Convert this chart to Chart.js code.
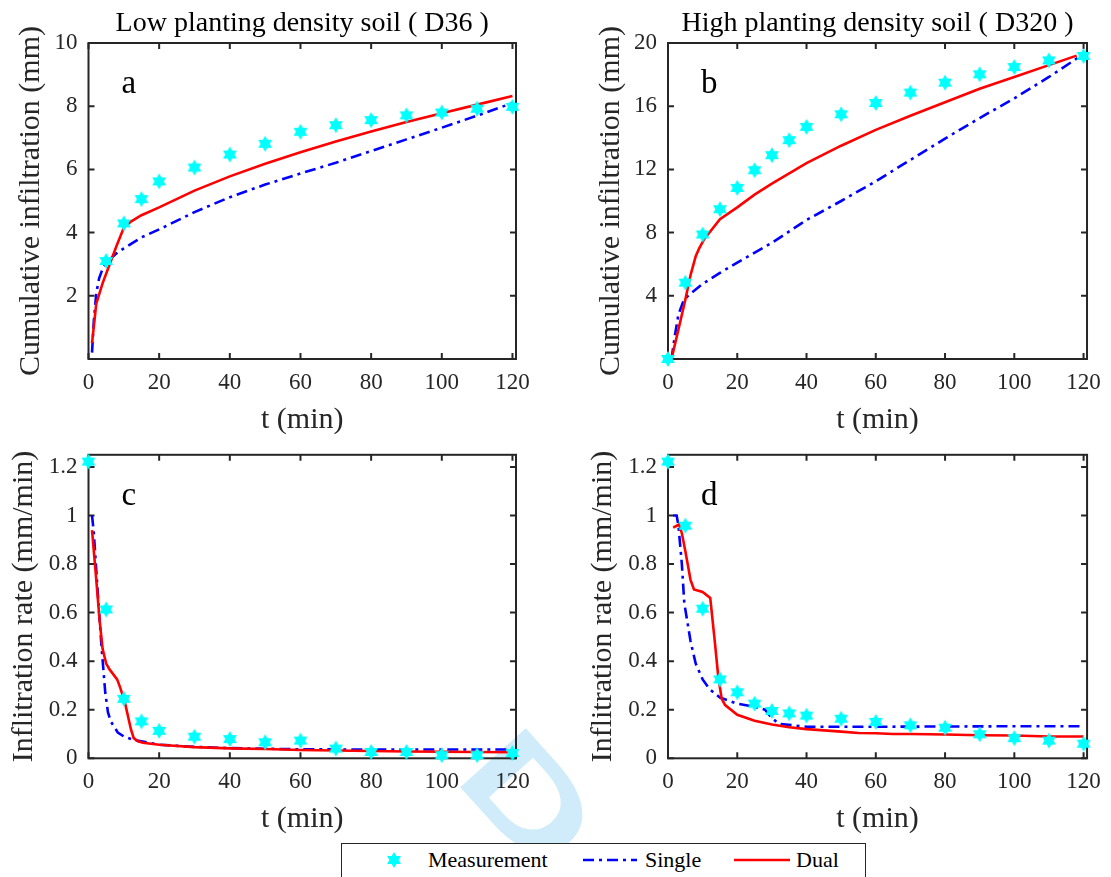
<!DOCTYPE html>
<html><head><meta charset="utf-8">
<script src="https://cdn.jsdelivr.net/npm/chart.js@4.4.1/dist/chart.umd.min.js"></script>
<style>
html,body{margin:0;padding:0;background:#fff;}
body{width:1111px;height:877px;position:relative;overflow:hidden;font-family:'Liberation Serif','Times New Roman',serif;}
#wm{position:absolute;left:0;top:0;z-index:0;}
#legend{position:absolute;left:341px;top:843px;width:525px;height:46px;border:1px solid #262626;background:#fff;z-index:3;box-sizing:border-box;}
#legend span{position:absolute;top:4.6px;font-size:22px;line-height:22px;color:#000;white-space:nowrap;font-family:'Liberation Serif','Times New Roman',serif;}
#legend canvas{position:absolute;}
</style>
</head><body>
<canvas id="wm" width="1111" height="877"></canvas>
<div id="legend">
  <canvas id="lgStar" width="18" height="18" style="left:42.5px;top:7px"></canvas>
  <span style="left:86px">Measurement</span>
  <canvas id="lgSingle" width="54" height="6" style="left:241px;top:13px"></canvas>
  <span style="left:303px">Single</span>
  <canvas id="lgDual" width="56" height="6" style="left:392px;top:13px"></canvas>
  <span style="left:454px">Dual</span>
</div>
<script>
// ---------------- data ----------------
const xTickVals = [0, 20, 40, 60, 80, 100, 120];
const cumTicksA = [2, 4, 6, 8, 10];
const cumTicksB = [4, 8, 12, 16, 20];
const rateTicks = [0, 0.2, 0.4, 0.6, 0.8, 1, 1.2];
const rateTickLabels = ['0', '0.2', '0.4', '0.6', '0.8', '1', '1.2'];

// panel a: cumulative infiltration, low density (D36)
const tMeasA   = [5, 10, 15, 20, 30, 40, 50, 60, 70, 80, 90, 100, 110, 120];
const cumMeasA = [3.10, 4.29, 5.06, 5.62, 6.06, 6.47, 6.81, 7.19, 7.40, 7.56, 7.71, 7.80, 7.92, 7.98];
const tSingleA   = [1, 1.5, 2.2, 3, 4.2, 6, 8, 10, 15, 20, 30, 40, 50, 60, 70, 80, 90, 100, 110, 120];
const cumSingleA = [0.2, 1.2, 2.08, 2.55, 2.92, 3.15, 3.35, 3.5, 3.85, 4.1, 4.65, 5.12, 5.52, 5.87, 6.21, 6.58, 6.95, 7.32, 7.7, 8.1];
const tDualA   = [1, 2.2, 4, 6, 8, 10, 12, 15, 20, 30, 40, 50, 60, 70, 80, 90, 100, 110, 120];
const cumDualA = [0.5, 1.75, 2.4, 3.0, 3.6, 4.15, 4.35, 4.55, 4.8, 5.33, 5.78, 6.18, 6.54, 6.88, 7.2, 7.5, 7.78, 8.05, 8.32];

// panel b: cumulative infiltration, high density (D320)
const tMeasB   = [0, 5, 10, 15, 20, 25, 30, 35, 40, 50, 60, 70, 80, 90, 100, 110, 120];
const cumMeasB = [0, 4.83, 7.88, 9.48, 10.83, 11.95, 12.9, 13.85, 14.69, 15.49, 16.2, 16.86, 17.49, 18.02, 18.48, 18.9, 19.18];
const tSingleB   = [1, 2, 3, 4.5, 6, 8, 10, 15, 20, 30, 40, 50, 60, 70, 80, 90, 100, 110, 120];
const cumSingleB = [0, 1.5, 2.8, 3.7, 4.05, 4.4, 4.75, 5.45, 6.1, 7.35, 8.8, 10.0, 11.25, 12.6, 13.95, 15.25, 16.5, 17.85, 19.3];
const tDualB   = [1, 3, 5, 6.5, 8, 9, 10.5, 15, 20, 25, 30, 40, 50, 60, 70, 80, 90, 100, 110, 118];
const cumDualB = [0, 1.85, 3.75, 5.3, 6.5, 7.0, 7.6, 8.85, 9.6, 10.4, 11.1, 12.4, 13.5, 14.5, 15.4, 16.25, 17.1, 17.85, 18.6, 19.2];

// panel c: infiltration rate, low density
const tMeasC    = [0, 5, 10, 15, 20, 30, 40, 50, 60, 70, 80, 90, 100, 110, 120];
const rateMeasC = [1.222, 0.613, 0.245, 0.152, 0.113, 0.089, 0.079, 0.066, 0.073, 0.04, 0.026, 0.026, 0.013, 0.013, 0.022];
const tSingleC    = [1, 1.5, 2.2, 3, 3.7, 4.75, 5.5, 6.3, 8.3, 10, 13, 20, 30, 40, 60, 80, 100, 120];
const rateSingleC = [1.0, 0.93, 0.775, 0.6, 0.457, 0.27, 0.19, 0.152, 0.106, 0.09, 0.075, 0.056, 0.047, 0.042, 0.037, 0.036, 0.036, 0.036];
const tDualC    = [1, 2, 3.2, 4, 5, 6, 6.6, 8.1, 9, 10.3, 12, 12.8, 14, 15.4, 20, 30, 40, 50, 60, 70, 80, 90, 100, 110, 120];
const rateDualC = [0.94, 0.77, 0.56, 0.45, 0.39, 0.365, 0.354, 0.325, 0.29, 0.23, 0.12, 0.083, 0.07, 0.064, 0.056, 0.046, 0.041, 0.038, 0.034, 0.032, 0.03, 0.028, 0.027, 0.026, 0.025];

// panel d: infiltration rate, high density
const tMeasD    = [0, 5, 10, 15, 20, 25, 30, 35, 40, 50, 60, 70, 80, 90, 100, 110, 120];
const rateMeasD = [1.222, 0.958, 0.616, 0.325, 0.272, 0.225, 0.195, 0.185, 0.176, 0.163, 0.15, 0.136, 0.126, 0.099, 0.083, 0.073, 0.06];
const tSingleD    = [1.5, 2.5, 3, 4, 4.7, 6.5, 8, 10, 12, 15, 20, 25, 28, 30, 32, 40, 60, 80, 100, 120];
const rateSingleD = [1.0, 1.0, 0.96, 0.8, 0.64, 0.483, 0.39, 0.325, 0.285, 0.25, 0.225, 0.212, 0.2, 0.166, 0.142, 0.13, 0.13, 0.131, 0.132, 0.132];
const tDualD    = [1.5, 3.2, 4, 5, 6.5, 7.5, 10, 12.2, 13.5, 14.5, 15.5, 16.5, 20, 25, 30, 35, 40, 45, 50, 55, 60, 65, 70, 80, 90, 100, 110, 120];
const rateDualD = [0.95, 0.963, 0.927, 0.854, 0.735, 0.695, 0.685, 0.66, 0.483, 0.338, 0.245, 0.219, 0.179, 0.155, 0.139, 0.128, 0.12, 0.115, 0.11, 0.104, 0.103, 0.1, 0.1, 0.098, 0.095, 0.094, 0.09, 0.09];

// ---------------- drawing ----------------
const SERIF = "'Liberation Serif','Times New Roman',serif";
const INK = '#262626';
const DASHDOT = [11, 5, 3, 5];

function makeStar() {
  const c = document.createElement('canvas');
  c.width = 18; c.height = 18;
  drawStar(c.getContext('2d'), 9, 9, 8);
  return c;
}
function drawStar(ctx, cx, cy, R) {
  const r = R / Math.sqrt(3);
  ctx.beginPath();
  for (let i = 0; i < 12; i++) {
    const a = -Math.PI / 2 + i * Math.PI / 6;
    const rr = i % 2 === 0 ? R : r;
    const px = cx + rr * Math.cos(a), py = cy + rr * Math.sin(a);
    if (i === 0) ctx.moveTo(px, py); else ctx.lineTo(px, py);
  }
  ctx.closePath();
  ctx.fillStyle = '#00ffff';
  ctx.fill();
}
const STAR = makeStar();

const framePlugin = {
  id: 'frame',
  beforeDatasetsDraw(chart, args, opts) {
    const {ctx, chartArea: a, scales: {x, y}} = chart;
    ctx.save();
    ctx.strokeStyle = INK;
    ctx.lineWidth = 2;
    ctx.strokeRect(a.left, a.top, a.right - a.left, a.bottom - a.top);
    const tl = 6;
    ctx.beginPath();
    x.ticks.forEach(t => {
      const px = x.getPixelForValue(t.value);
      ctx.moveTo(px, a.bottom); ctx.lineTo(px, a.bottom - tl);
      ctx.moveTo(px, a.top); ctx.lineTo(px, a.top + tl);
    });
    y.ticks.forEach(t => {
      const py = y.getPixelForValue(t.value);
      ctx.moveTo(a.left, py); ctx.lineTo(a.left + tl, py);
      ctx.moveTo(a.right, py); ctx.lineTo(a.right - tl, py);
    });
    ctx.stroke();
    if (opts.letter) {
      ctx.fillStyle = '#000';
      ctx.font = '33px ' + SERIF;
      ctx.textBaseline = 'alphabetic';
      ctx.textAlign = 'left';
      ctx.fillText(opts.letter, a.left + 33, a.top + 50);
    }
    ctx.restore();
  }
};

function pts(xs, ys) { return xs.map((x, i) => ({x: x, y: ys[i]})); }

function makePanel(p) {
  const cv = document.createElement('canvas');
  cv.width = p.W; cv.height = p.H;
  cv.style.cssText = `position:absolute;left:${p.L}px;top:${p.T}px;width:${p.W}px;height:${p.H}px;z-index:1;`;
  document.body.appendChild(cv);
  const yAxisW = p.left - p.L;
  const padRight = p.L + p.W - p.right;
  const xAxisH = p.T + p.H - p.bottom;
  const xTitlePad = (p.T + p.H) - (p.bottom + 61) - 18;
  const yTitlePad = p.yTitleX - p.L - 18;
  const titleLH = 28 * 1.2;
  const titleOpts = p.title ? {
    display: true, text: p.title, fullSize: false, color: '#000',
    font: {family: SERIF, size: 28, weight: 'normal', lineHeight: 1.2},
    padding: {top: 7, bottom: (p.top - p.T) - titleLH - 7}
  } : {display: false};

  new Chart(cv, {
    type: 'scatter',
    data: {datasets: [
      {label: 'Measurement', data: pts(p.tm, p.ym), pointStyle: STAR, pointRadius: 6, pointHoverRadius: 6,
       showLine: false, clip: false, backgroundColor: '#00ffff', borderColor: '#00ffff'},
      {label: 'Dual', data: pts(p.td, p.yd), showLine: true, borderColor: '#ff0000', borderWidth: 2.6,
       pointRadius: 0, pointHoverRadius: 0, fill: false, tension: 0},
      {label: 'Single', data: pts(p.ts, p.ys), showLine: true, borderColor: '#0000ff', borderWidth: 2.6,
       borderDash: DASHDOT, pointRadius: 0, pointHoverRadius: 0, fill: false, tension: 0}
    ]},
    options: {
      responsive: false, animation: false, devicePixelRatio: 1,
      layout: {padding: {left: 0, right: padRight, top: p.title ? 0 : (p.top - p.T), bottom: 0}},
      events: [],
      plugins: {
        legend: {display: false}, tooltip: {enabled: false},
        title: titleOpts,
        frame: {letter: p.letter}
      },
      scales: {
        x: {
          type: 'linear', min: 0, max: 121,
          afterBuildTicks: s => { s.ticks = xTickVals.map(v => ({value: v})); },
          afterFit: s => { s.height = xAxisH; },
          grid: {display: false, drawTicks: false}, border: {display: false},
          ticks: {font: {family: SERIF, size: 23}, color: INK, padding: 10, maxRotation: 0, autoSkip: false},
          title: {display: true, text: 't (min)', color: INK, font: {family: SERIF, size: 30, lineHeight: 1.2},
                  padding: {top: 0, bottom: xTitlePad}}
        },
        y: {
          type: 'linear', min: p.ymin, max: p.ymax,
          afterBuildTicks: s => { s.ticks = p.yTicks.map(v => ({value: v})); },
          afterFit: s => { s.width = yAxisW; },
          grid: {display: false, drawTicks: false}, border: {display: false},
          ticks: {font: {family: SERIF, size: 23}, color: INK, padding: 11, autoSkip: false,
                  callback: (v, i) => p.yLabels[i]},
          title: {display: true, text: p.yTitle, color: INK, font: {family: SERIF, size: 30, lineHeight: 1.2},
                  padding: {top: yTitlePad, bottom: 0}}
        }
      }
    },
    plugins: [framePlugin]
  });
}

const cumTitle = 'Cumulative infiltration (mm)';
const rateTitle = 'Inflitration rate (mm/min)';

makePanel({L: 0, T: 0, W: 545, H: 440, left: 88.5, right: 516, top: 43, bottom: 359, yTitleX: 31,
  title: 'Low planting density soil ( D36 )', letter: 'a', yTitle: cumTitle,
  ymin: 0, ymax: 10, yTicks: cumTicksA, yLabels: cumTicksA.map(String),
  tm: tMeasA, ym: cumMeasA, ts: tSingleA, ys: cumSingleA, td: tDualA, yd: cumDualA});
makePanel({L: 560, T: 0, W: 551, H: 440, left: 668, right: 1093, top: 43, bottom: 359, yTitleX: 611,
  title: 'High planting density soil ( D320 )', letter: 'b', yTitle: cumTitle,
  ymin: 0, ymax: 20, yTicks: cumTicksB, yLabels: cumTicksB.map(String),
  tm: tMeasB, ym: cumMeasB, ts: tSingleB, ys: cumSingleB, td: tDualB, yd: cumDualB});
makePanel({L: 0, T: 430, W: 545, H: 410, left: 88.5, right: 516, top: 443.3, bottom: 758.3, yTitleX: 24,
  title: null, letter: 'c', yTitle: rateTitle,
  ymin: 0, ymax: 1.25, yTicks: rateTicks, yLabels: rateTickLabels,
  tm: tMeasC, ym: rateMeasC, ts: tSingleC, ys: rateSingleC, td: tDualC, yd: rateDualC});
makePanel({L: 560, T: 430, W: 551, H: 410, left: 668, right: 1093, top: 443.3, bottom: 758.3, yTitleX: 603,
  title: null, letter: 'd', yTitle: rateTitle,
  ymin: 0, ymax: 1.25, yTicks: rateTicks, yLabels: rateTickLabels,
  tm: tMeasD, ym: rateMeasD, ts: tSingleD, ys: rateSingleD, td: tDualD, yd: rateDualD});

// legend samples and faint watermark
(function () {
  drawStar(document.getElementById('lgStar').getContext('2d'), 9, 9, 8);
  const s = document.getElementById('lgSingle').getContext('2d');
  s.strokeStyle = '#0000ff'; s.lineWidth = 2.6; s.setLineDash(DASHDOT);
  s.beginPath(); s.moveTo(0, 3); s.lineTo(54, 3); s.stroke();
  const d = document.getElementById('lgDual').getContext('2d');
  d.strokeStyle = '#ff0000'; d.lineWidth = 2.6;
  d.beginPath(); d.moveTo(0, 3); d.lineTo(56, 3); d.stroke();
  const w = document.getElementById('wm').getContext('2d');
  w.save();
  w.translate(452, 778);
  w.rotate(48 * Math.PI / 180);
  w.scale(1.45, 1);
  w.font = "bold 128px 'Liberation Sans', Arial, sans-serif";
  w.fillStyle = 'rgb(208,236,250)';
  w.fillText('D', 0, 0);
  w.restore();
})();
</script>
</body></html>
